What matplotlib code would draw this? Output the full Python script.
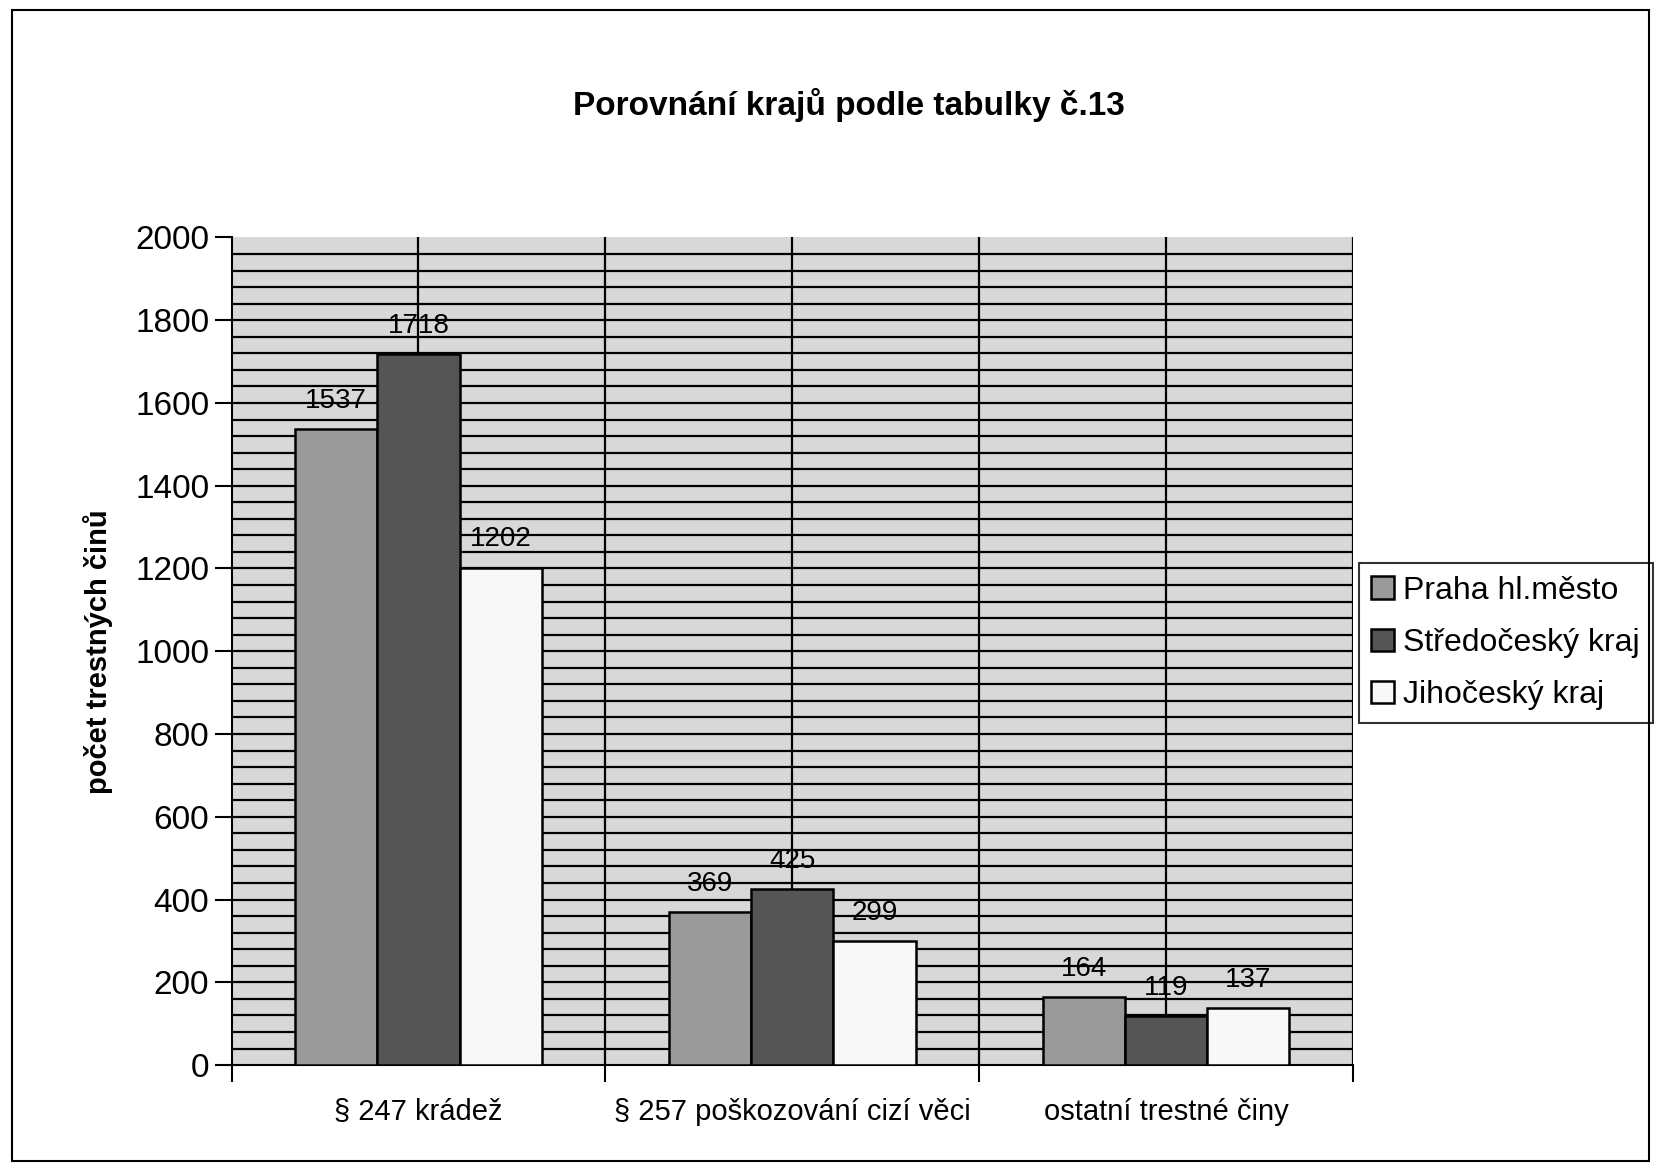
#porovnani kraju - sloupcovy graf podle tabulky c.13
import numpy as np
import matplotlib.pyplot as plt
from matplotlib.patches import Rectangle

plt.rcParams['font.family'] = ['Liberation Sans', 'DejaVu Sans']

# data
kategorie = ["§ 247 krádež", "§ 257 poškozování cizí věci", "ostatní trestné činy"]
praha = [1537, 369, 164]
stredocesky = [1718, 425, 119]
jihocesky = [1202, 299, 137]
serie = ["Praha hl.město", "Středočeský kraj", "Jihočeský kraj"]
barvy = ["#9a9a9a", "#555555", "#f8f8f8"]

fig = plt.figure(figsize=(16.54, 11.64), dpi=100)
ax = fig.add_axes([0.140, 0.085, 0.678, 0.711])
ax.set_facecolor("#d8d8d8")

x = np.arange(len(kategorie))
w = 0.22
hodnoty = [praha, stredocesky, jihocesky]

# mrizka - vodorovne po 40, svisle po pul kategorie
for yy in range(40, 2000, 40):
    ax.axhline(yy, color="black", lw=1.6, zorder=1)
for xx in np.arange(0, 2.51, 0.5):
    ax.axvline(xx, color="black", lw=1.6, zorder=1)

for i in range(3):
    bars = ax.bar(x + (i - 1) * w, hodnoty[i], w, color=barvy[i], edgecolor="black",
                  lw=1.8, label=serie[i], zorder=3)
    for b, v in zip(bars, hodnoty[i]):
        ax.annotate(str(v), (b.get_x() + b.get_width() / 2, v), xytext=(0, 11),
                    textcoords="offset points", ha="center", va="bottom",
                    fontsize=20, zorder=4)

ax.set_xlim(-0.5, 2.5)
ax.set_ylim(0, 2000)
ax.set_yticks(range(0, 2001, 200))
ax.set_xticks([-0.5, 0.5, 1.5, 2.5])
ax.set_xticklabels([])
ax.set_xticks(x, minor=True)
ax.set_xticklabels(kategorie, minor=True, fontsize=21)
ax.tick_params(axis="x", which="minor", length=0, pad=24)
ax.tick_params(axis="x", which="major", length=12, width=1.5, direction="out")
ax.tick_params(axis="y", length=12, width=1.5, direction="out", labelsize=24, pad=4)
for s in ["top", "right"]:
    ax.spines[s].set_visible(False)
ax.spines["left"].set_linewidth(1.5)
ax.spines["bottom"].set_linewidth(1.5)

ax.set_ylabel("počet trestných činů", fontsize=21, fontweight="bold", labelpad=16)
fig.text(0.513, 0.91, "Porovnání krajů podle tabulky č.13", ha="center", va="center",
         fontsize=24, fontweight="bold")

leg = ax.legend(loc="center left", bbox_to_anchor=(1.005, 0.51), fontsize=23,
                frameon=True, fancybox=False, edgecolor="black", handlelength=0.7,
                handleheight=0.7, handletextpad=0.3, borderpad=0.4, labelspacing=0.7,
                borderaxespad=0)
leg.get_frame().set_linewidth(1.5)

# ramecek kolem celeho obrazku
fig.patches.append(Rectangle((0.007, 0.003), 0.99, 0.988, transform=fig.transFigure,
                             fill=False, edgecolor="black", lw=1.5))

plt.savefig("out.png")
